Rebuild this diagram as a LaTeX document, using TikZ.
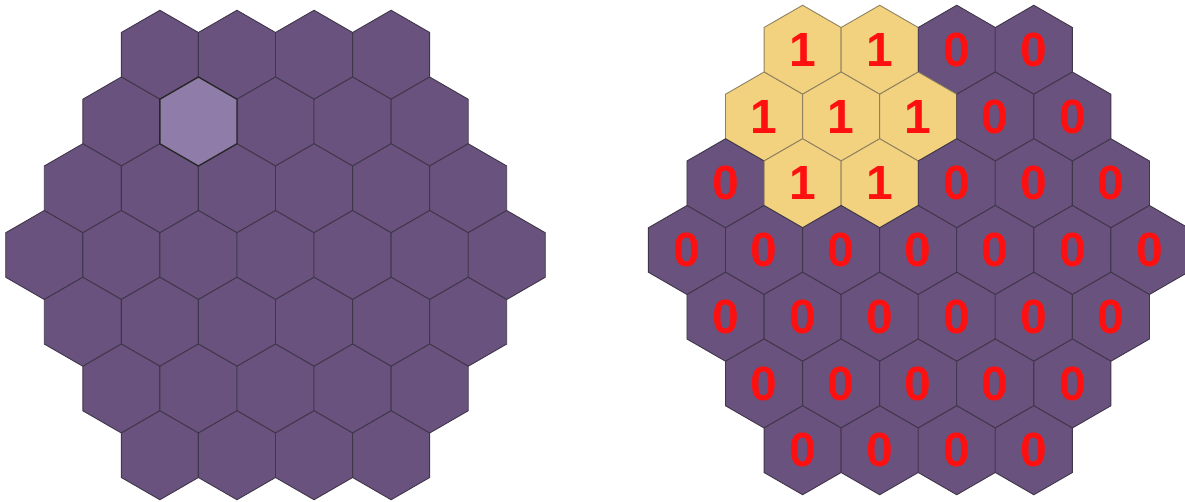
\documentclass[tikz,border=0pt]{standalone}
\usepackage{fontspec}
\setmainfont{Liberation Sans}
\usepackage{xcolor}
\usepackage{tikz}

\definecolor{cellpurple}{HTML}{69527D}
\definecolor{celllight}{HTML}{907CA8}
\definecolor{cellyellow}{HTML}{F2D27F}
\definecolor{celledge}{HTML}{40364A}
\definecolor{yellowedge}{HTML}{8E8160}
\definecolor{markred}{HTML}{FF1010}

\newcommand{\hexR}{44.5}
\newcommand{\hexcell}[3]{%
  \draw[#1, shift={(#2,#3)}] (90:\hexR) -- (150:\hexR) -- (210:\hexR)
    -- (270:\hexR) -- (330:\hexR) -- (30:\hexR) -- cycle;}

\begin{document}
\begin{tikzpicture}[
    x=1pt, y=-1pt,
    purplecell/.style={fill=cellpurple, draw=celledge, line width=0.9pt, line join=miter},
    lightcell/.style={fill=celllight, draw=black!85, line width=1.3pt, line join=miter},
    yellowcell/.style={fill=cellyellow, draw=yellowedge, line width=0.9pt, line join=miter},
    bit/.style={text=markred, inner sep=0pt, font=\fontsize{48}{48}\selectfont\bfseries},
]
\useasboundingbox (0,0) rectangle (1185,502);

% ===== Left grid =====
\foreach \r in {1,...,7} {
  \pgfmathtruncatemacro\n{7-abs(\r-4)}
  \foreach \k in {1,...,\n} {
    \pgfmathsetmacro\cx{275.5+(\k-(\n+1)/2)*77.08}
    \pgfmathsetmacro\cy{255+(\r-4)*66.75}
    \hexcell{purplecell}{\cx}{\cy}
  }
}
% selected cell
\hexcell{lightcell}{198.4}{121.5}

% ===== Right grid with bits =====
\foreach \r in {1,...,7} {
  \pgfmathtruncatemacro\n{7-abs(\r-4)}
  \foreach \k in {1,...,\n} {
    \pgfmathsetmacro\cx{918.2+(\k-(\n+1)/2)*77.08}
    \pgfmathsetmacro\cy{250+(\r-4)*66.75}
    \pgfmathtruncatemacro\isone{(\r==1 && \k<=2) || (\r==2 && \k<=3) || (\r==3 && \k>=2 && \k<=3)}
    \ifnum\isone=1
      \hexcell{yellowcell}{\cx}{\cy}
      \node[bit] (bit-\r-\k) at (\cx,\cy) {1};
    \else
      \hexcell{purplecell}{\cx}{\cy}
      \node[bit] (bit-\r-\k) at (\cx,\cy) {0};
    \fi
  }
}

\end{tikzpicture}
\end{document}
